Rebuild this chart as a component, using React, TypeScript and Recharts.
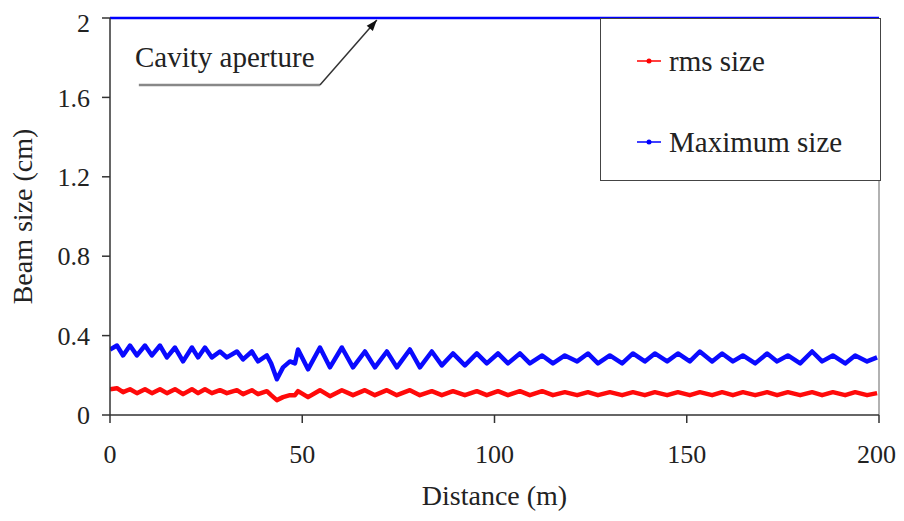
import { LineChart, Line, XAxis, YAxis, ReferenceLine, ReferenceDot } from 'recharts';

// distance along the structure (m), read at the peaks and troughs of the ripple
const distance = [
  0, 1.8, 3.4, 5.2, 7.0, 9.1, 10.9, 13.0, 14.8, 16.9, 19.0, 21.3, 22.9, 24.7, 26.5, 28.6,
  30.4, 33.0, 34.6, 36.9, 38.5, 40.8, 41.9, 43.4, 45.0, 46.8, 48.1, 48.9, 51.5, 54.6, 57.2,
  60.3, 63.2, 66.3, 68.9, 72.0, 74.6, 78.0, 80.6, 83.7, 86.3, 89.2, 92.3, 95.4, 98.0, 100.9,
  103.5, 106.6, 109.2, 112.4, 115.2, 118.3, 121.5, 124.3, 126.9, 130.0, 133.2, 136.0, 139.1,
  141.7, 144.9, 147.7, 150.8, 153.4, 156.6, 159.2, 162.0, 164.6, 167.8, 170.9, 173.5, 176.3,
  179.5, 182.6, 185.2, 188.0, 191.2, 193.8, 196.9, 199.5,
];

const maxSize = [
  0.33, 0.35, 0.30, 0.35, 0.30, 0.35, 0.30, 0.35, 0.29, 0.34, 0.27, 0.34, 0.29, 0.34, 0.29, 0.32,
  0.29, 0.32, 0.28, 0.32, 0.27, 0.30, 0.26, 0.18, 0.24, 0.27, 0.26, 0.33, 0.23, 0.34, 0.24,
  0.34, 0.24, 0.32, 0.24, 0.32, 0.24, 0.33, 0.24, 0.32, 0.25, 0.31, 0.25, 0.31, 0.26, 0.31,
  0.26, 0.31, 0.26, 0.30, 0.26, 0.30, 0.27, 0.31, 0.26, 0.30, 0.26, 0.31, 0.27,
  0.31, 0.27, 0.31, 0.27, 0.32, 0.27, 0.31, 0.27, 0.30, 0.26, 0.31, 0.27, 0.30,
  0.26, 0.32, 0.27, 0.30, 0.26, 0.30, 0.27, 0.29,
];

const rmsSize = [
  0.13, 0.135, 0.115, 0.13, 0.11, 0.13, 0.11, 0.13, 0.11, 0.13, 0.105, 0.13, 0.11, 0.13, 0.11, 0.125,
  0.11, 0.125, 0.105, 0.125, 0.105, 0.12, 0.10, 0.075, 0.09, 0.10, 0.10, 0.12, 0.09, 0.125, 0.095,
  0.125, 0.10, 0.125, 0.10, 0.125, 0.10, 0.125, 0.10, 0.12, 0.10, 0.12, 0.10, 0.12, 0.10, 0.12,
  0.10, 0.12, 0.10, 0.12, 0.10, 0.115, 0.10, 0.115, 0.10, 0.115, 0.10, 0.115, 0.10,
  0.115, 0.10, 0.115, 0.10, 0.115, 0.10, 0.115, 0.10, 0.115, 0.10, 0.115, 0.10, 0.115,
  0.10, 0.115, 0.10, 0.115, 0.10, 0.115, 0.10, 0.11,
];

const apertureDistance = [0, 200];
const apertureSize = [2, 2];

const xTicks = [0, 50, 100, 150, 200];
const yTicks = [0, 0.4, 0.8, 1.2, 1.6, 2];

const data = distance.map((x, i) => ({ x, max: maxSize[i], rms: rmsSize[i] }));
const apertureData = apertureDistance.map((x, i) => ({ x, aperture: apertureSize[i] }));

const FONT = 'Liberation Serif, Tinos, Times, DejaVu Serif, serif';
const tickStyle = { fontFamily: FONT, fontSize: 26, fill: '#222' };

const legendItems = [
  { label: 'rms size', color: '#ff0000', top: 42 },
  { label: 'Maximum size', color: '#0000ff', top: 123 },
];

// annotation for the aperture line
const labelAt = { x: 6.5, y: 1.753 };
const underline = [{ x: 7.5, y: 1.662 }, { x: 54.6, y: 1.662 }];
const pointer = [{ x: 54.6, y: 1.662 }, { x: 69.4, y: 1.99 }];

const ArrowHead = (props: any) => (
  <polygon
    points="0,0 -11,-4 -11,4"
    transform={`translate(${props.cx},${props.cy}) rotate(-50)`}
    fill="#111"
  />
);

const CavityLabel = (props: any) => (
  <text x={props.cx} y={props.cy} fontFamily={FONT} fontSize={29} fill="#222">
    Cavity aperture
  </text>
);

const LegendBox = () => (
  <div
    style={{
      position: 'absolute',
      left: 592,
      top: 10,
      width: 281,
      height: 163,
      boxSizing: 'border-box',
      border: '1.5px solid #444',
      background: '#fff',
      fontFamily: FONT,
      fontSize: 29,
      color: '#222',
    }}
  >
    {legendItems.map((item) => (
      <div
        key={item.label}
        style={{ position: 'absolute', left: 36, top: item.top - 20, height: 40, display: 'flex', alignItems: 'center', whiteSpace: 'nowrap' }}
      >
        <svg width={24} height={10} style={{ marginRight: 8 }}>
          <line x1={0} y1={5} x2={24} y2={5} stroke={item.color} strokeWidth={1.5} />
          <circle cx={12} cy={5} r={2.5} fill={item.color} />
        </svg>
        <span>{item.label}</span>
      </div>
    ))}
  </div>
);

export default function App() {
  return (
    <div style={{ position: 'relative', width: 888, height: 505 }}>
      <LineChart width={888} height={505} data={data} margin={{ top: 10, right: 17, bottom: 0, left: 0 }}>
        <XAxis
          type="number"
          dataKey="x"
          domain={[0, 200]}
          ticks={xTicks}
          allowDataOverflow
          height={98}
          tick={tickStyle}
          tickSize={8}
          tickMargin={22}
          axisLine={{ stroke: '#333', strokeWidth: 1.5 }}
          tickLine={{ stroke: '#333', strokeWidth: 1.5 }}
          label={{ value: 'Distance (m)', position: 'insideBottom', offset: 8, style: { ...tickStyle, fontSize: 28 } }}
        />
        <YAxis
          type="number"
          domain={[0, 2]}
          ticks={yTicks}
          width={102}
          tick={tickStyle}
          tickSize={8}
          tickMargin={12}
          axisLine={{ stroke: '#333', strokeWidth: 1.5 }}
          tickLine={{ stroke: '#333', strokeWidth: 1.5 }}
          label={{
            value: 'Beam size (cm)',
            angle: -90,
            position: 'insideLeft',
            offset: 14,
            style: { ...tickStyle, fontSize: 28, textAnchor: 'middle' },
          }}
        />
        <ReferenceLine x={200} stroke="#999" strokeWidth={1.5} />
        <ReferenceLine segment={underline} stroke="#888" strokeWidth={2.5} />
        <ReferenceLine segment={pointer} stroke="#333" strokeWidth={1.5} />
        <ReferenceDot x={pointer[1].x} y={pointer[1].y} r={0} shape={ArrowHead} />
        <ReferenceDot x={labelAt.x} y={labelAt.y} r={0} shape={CavityLabel} />
        <Line
          data={apertureData}
          dataKey="aperture"
          stroke="#0000ff"
          strokeWidth={2.5}
          dot={false}
          isAnimationActive={false}
        />
        <Line dataKey="max" stroke="#0a0aff" strokeWidth={4.5} strokeLinejoin="round" dot={false} isAnimationActive={false} />
        <Line dataKey="rms" stroke="#ff0a0a" strokeWidth={4.5} strokeLinejoin="round" dot={false} isAnimationActive={false} />
      </LineChart>
      <LegendBox />
    </div>
  );
}
